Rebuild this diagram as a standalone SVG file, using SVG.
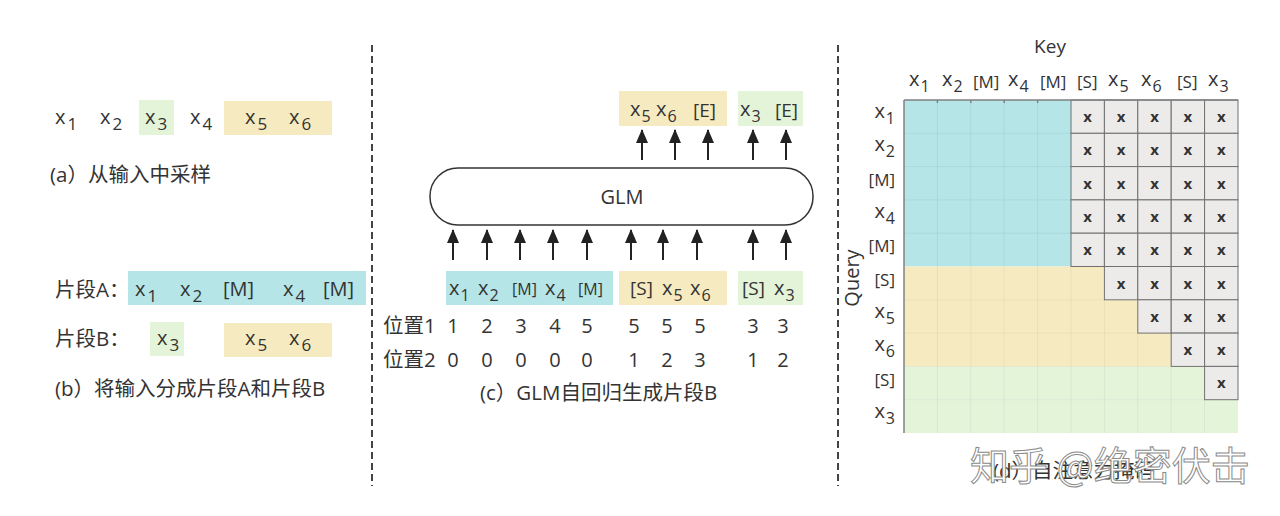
<svg xmlns="http://www.w3.org/2000/svg" width="1280" height="516" viewBox="0 0 1280 516">
<defs>
<style>
text{font-family:"Open Sans","Noto Sans CJK SC",sans-serif;fill:#333;}
.t{font-size:20px;}
.t .sub{font-size:17px;}
.tm{font-size:20px;}
.tm .sub{font-size:16px;}
.ts{font-size:16px;}
.tb{font-size:19px;}
.sub{font-size:15px;}
.cap{font-size:20.5px;}
.num{font-size:20px;text-anchor:middle;}
.lbl{font-size:20px;}
.lbl .sub{font-size:16px;}
.rl{font-size:20px;text-anchor:end;}
.rl .sub{font-size:16px;}
.rb{font-size:17px;text-anchor:end;}
.cb{font-size:17px;}
.cx{font-size:15px;font-weight:bold;text-anchor:middle;fill:#333;}
.blue{fill:#b5e5e7;}
.yel{fill:#f6ebc0;}
.grn{fill:#e3f4d9;}
.gray{fill:#edebea;stroke:#707070;stroke-width:1;}
.dash{stroke:#444;stroke-width:2;stroke-dasharray:7 4;fill:none;}
.arr{stroke:#222;stroke-width:2;fill:none;marker-end:url(#ah);}
.grid{stroke:#000;stroke-opacity:0.05;stroke-width:1;}
.wm{font-family:"Noto Sans CJK SC",sans-serif;font-size:39px;fill:#fff;stroke:#8a8a8a;stroke-width:1;}
</style>
<marker id="ah" markerWidth="14" markerHeight="12" refX="13" refY="6" orient="auto" markerUnits="userSpaceOnUse" viewBox="0 0 14 12">
<path d="M0,0 L14,6 L0,12 Z" fill="#222"/>
</marker>
</defs>
<rect width="1280" height="516" fill="#fff"/>

<g id="dividers">
<line class="dash" x1="372" y1="45" x2="372" y2="486"/>
<line class="dash" x1="838" y1="45" x2="838" y2="486"/>
</g>

<g id="panel-a">
<rect class="grn" x="139" y="100" width="35" height="35"/>
<rect class="yel" x="224" y="101" width="108" height="34"/>
<text class="t" x="55" y="124">x<tspan class="sub" dx="2" dy="6">1</tspan></text>
<text class="t" x="100" y="124">x<tspan class="sub" dx="2" dy="6">2</tspan></text>
<text class="t" x="145" y="124">x<tspan class="sub" dx="2" dy="6">3</tspan></text>
<text class="t" x="190" y="124">x<tspan class="sub" dx="2" dy="6">4</tspan></text>
<text class="t" x="245" y="124">x<tspan class="sub" dx="2" dy="6">5</tspan></text>
<text class="t" x="289" y="124">x<tspan class="sub" dx="2" dy="6">6</tspan></text>
<text class="cap" x="50" y="182">(a）从输入中采样</text>
</g>

<g id="panel-b">
<rect class="blue" x="128" y="271" width="238" height="34"/>
<rect class="grn" x="150" y="322" width="34" height="34"/>
<rect class="yel" x="224" y="323" width="108" height="34"/>
<text class="cap" x="55" y="297">片段A：</text>
<text class="t" x="135" y="296">x<tspan class="sub" dx="2" dy="6">1</tspan></text>
<text class="t" x="180" y="296">x<tspan class="sub" dx="2" dy="6">2</tspan></text>
<text class="t" x="223" y="296">[M]</text>
<text class="t" x="283" y="296">x<tspan class="sub" dx="2" dy="6">4</tspan></text>
<text class="t" x="323" y="296">[M]</text>
<text class="cap" x="55" y="346">片段B：</text>
<text class="t" x="157" y="345">x<tspan class="sub" dx="2" dy="6">3</tspan></text>
<text class="t" x="245" y="345">x<tspan class="sub" dx="2" dy="6">5</tspan></text>
<text class="t" x="289" y="345">x<tspan class="sub" dx="2" dy="6">6</tspan></text>
<text class="cap" x="55" y="396">(b）将输入分成片段A和片段B</text>
</g>

<g id="output-tokens">
<rect class="yel" x="619" y="91" width="108" height="35"/>
<rect class="grn" x="738" y="91" width="65" height="35"/>
<text class="tm" x="630" y="116">x<tspan class="sub" dx="1" dy="6">5</tspan></text>
<text class="tm" x="656" y="116">x<tspan class="sub" dx="1" dy="6">6</tspan></text>
<text class="tb" x="693" y="117">[E]</text>
<text class="tm" x="740" y="116">x<tspan class="sub" dx="1" dy="6">3</tspan></text>
<text class="tb" x="775" y="117">[E]</text>
</g>
<g id="glm">
<rect x="430" y="168" width="383" height="57" rx="28" ry="28" fill="#fff" stroke="#333" stroke-width="1.5"/>
<text x="622" y="204" style="font-size:20px;text-anchor:middle">GLM</text>
</g>
<g id="input-tokens">
<rect class="blue" x="446" y="271" width="167" height="34"/>
<rect class="yel" x="619" y="271" width="108" height="34"/>
<rect class="grn" x="738" y="271" width="65" height="34"/>
<text class="tm" x="449" y="295">x<tspan class="sub" dx="1" dy="6">1</tspan></text>
<text class="tm" x="478" y="295">x<tspan class="sub" dx="1" dy="6">2</tspan></text>
<text class="ts" x="512" y="295">[M]</text>
<text class="tm" x="545" y="295">x<tspan class="sub" dx="1" dy="6">4</tspan></text>
<text class="ts" x="578" y="295">[M]</text>
<text class="tb" x="630" y="295">[S]</text>
<text class="tm" x="662" y="295">x<tspan class="sub" dx="1" dy="6">5</tspan></text>
<text class="tm" x="690" y="295">x<tspan class="sub" dx="1" dy="6">6</tspan></text>
<text class="tb" x="742" y="295">[S]</text>
<text class="tm" x="774" y="295">x<tspan class="sub" dx="1" dy="6">3</tspan></text>
</g>
<g id="positions">
<text class="cap" x="383" y="333">位置1</text>
<text class="cap" x="383" y="367">位置2</text>
<text class="num" x="453" y="333">1</text><text class="num" x="487" y="333">2</text><text class="num" x="521" y="333">3</text><text class="num" x="555" y="333">4</text><text class="num" x="587" y="333">5</text>
<text class="num" x="634" y="333">5</text><text class="num" x="667" y="333">5</text><text class="num" x="700" y="333">5</text><text class="num" x="753" y="333">3</text><text class="num" x="783" y="333">3</text>
<text class="num" x="453" y="367">0</text><text class="num" x="487" y="367">0</text><text class="num" x="521" y="367">0</text><text class="num" x="555" y="367">0</text><text class="num" x="587" y="367">0</text>
<text class="num" x="634" y="367">1</text><text class="num" x="667" y="367">2</text><text class="num" x="700" y="367">3</text><text class="num" x="753" y="367">1</text><text class="num" x="783" y="367">2</text>
<text class="cap" x="480" y="400">(c）GLM自回归生成片段B</text>
</g>
<g id="connectors">
<line class="arr" x1="642" y1="160" x2="642" y2="130"/>
<line class="arr" x1="675" y1="160" x2="675" y2="130"/>
<line class="arr" x1="708" y1="160" x2="708" y2="130"/>
<line class="arr" x1="753" y1="160" x2="753" y2="130"/>
<line class="arr" x1="786" y1="160" x2="786" y2="130"/>
<line class="arr" x1="453" y1="260" x2="453" y2="230"/>
<line class="arr" x1="487" y1="260" x2="487" y2="230"/>
<line class="arr" x1="520" y1="260" x2="520" y2="230"/>
<line class="arr" x1="553" y1="260" x2="553" y2="230"/>
<line class="arr" x1="587" y1="260" x2="587" y2="230"/>
<line class="arr" x1="631" y1="260" x2="631" y2="230"/>
<line class="arr" x1="663" y1="260" x2="663" y2="230"/>
<line class="arr" x1="697" y1="260" x2="697" y2="230"/>
<line class="arr" x1="753" y1="260" x2="753" y2="230"/>
<line class="arr" x1="786" y1="260" x2="786" y2="230"/>
</g>

<g id="mask-matrix">
<rect class="blue" x="904" y="100" width="167" height="166.5"/>
<rect class="yel" x="904" y="266.5" width="200.4" height="33.3"/>
<rect class="yel" x="904" y="299.8" width="233.8" height="33.3"/>
<rect class="yel" x="904" y="333.1" width="267.2" height="33.3"/>
<rect class="grn" x="904" y="366.4" width="300.6" height="33.3"/>
<rect class="grn" x="904" y="399.7" width="334" height="33.3"/>
<g class="grid">
<line x1="937.4" y1="100" x2="937.4" y2="433"/><line x1="970.8" y1="100" x2="970.8" y2="433"/><line x1="1004.2" y1="100" x2="1004.2" y2="433"/><line x1="1037.6" y1="100" x2="1037.6" y2="433"/>
<line x1="1071" y1="266.5" x2="1071" y2="433"/><line x1="1104.4" y1="299.8" x2="1104.4" y2="433"/><line x1="1137.8" y1="333.1" x2="1137.8" y2="433"/><line x1="1171.2" y1="366.4" x2="1171.2" y2="433"/><line x1="1204.6" y1="399.7" x2="1204.6" y2="433"/>
<line x1="904" y1="299.8" x2="1104.4" y2="299.8"/><line x1="904" y1="333.1" x2="1137.8" y2="333.1"/><line x1="904" y1="366.4" x2="1171.2" y2="366.4"/><line x1="904" y1="399.7" x2="1204.6" y2="399.7"/>
<line x1="904" y1="133.3" x2="1071" y2="133.3"/><line x1="904" y1="166.6" x2="1071" y2="166.6"/><line x1="904" y1="199.9" x2="1071" y2="199.9"/><line x1="904" y1="233.2" x2="1071" y2="233.2"/>
</g>
<g id="masked-cells">
<rect class="gray" x="1071" y="100" width="33.4" height="33.3"/><rect class="gray" x="1104.4" y="100" width="33.4" height="33.3"/><rect class="gray" x="1137.8" y="100" width="33.4" height="33.3"/><rect class="gray" x="1171.2" y="100" width="33.4" height="33.3"/><rect class="gray" x="1204.6" y="100" width="33.4" height="33.3"/>
<rect class="gray" x="1071" y="133.3" width="33.4" height="33.3"/><rect class="gray" x="1104.4" y="133.3" width="33.4" height="33.3"/><rect class="gray" x="1137.8" y="133.3" width="33.4" height="33.3"/><rect class="gray" x="1171.2" y="133.3" width="33.4" height="33.3"/><rect class="gray" x="1204.6" y="133.3" width="33.4" height="33.3"/>
<rect class="gray" x="1071" y="166.6" width="33.4" height="33.3"/><rect class="gray" x="1104.4" y="166.6" width="33.4" height="33.3"/><rect class="gray" x="1137.8" y="166.6" width="33.4" height="33.3"/><rect class="gray" x="1171.2" y="166.6" width="33.4" height="33.3"/><rect class="gray" x="1204.6" y="166.6" width="33.4" height="33.3"/>
<rect class="gray" x="1071" y="199.9" width="33.4" height="33.3"/><rect class="gray" x="1104.4" y="199.9" width="33.4" height="33.3"/><rect class="gray" x="1137.8" y="199.9" width="33.4" height="33.3"/><rect class="gray" x="1171.2" y="199.9" width="33.4" height="33.3"/><rect class="gray" x="1204.6" y="199.9" width="33.4" height="33.3"/>
<rect class="gray" x="1071" y="233.2" width="33.4" height="33.3"/><rect class="gray" x="1104.4" y="233.2" width="33.4" height="33.3"/><rect class="gray" x="1137.8" y="233.2" width="33.4" height="33.3"/><rect class="gray" x="1171.2" y="233.2" width="33.4" height="33.3"/><rect class="gray" x="1204.6" y="233.2" width="33.4" height="33.3"/>
<rect class="gray" x="1104.4" y="266.5" width="33.4" height="33.3"/><rect class="gray" x="1137.8" y="266.5" width="33.4" height="33.3"/><rect class="gray" x="1171.2" y="266.5" width="33.4" height="33.3"/><rect class="gray" x="1204.6" y="266.5" width="33.4" height="33.3"/>
<rect class="gray" x="1137.8" y="299.8" width="33.4" height="33.3"/><rect class="gray" x="1171.2" y="299.8" width="33.4" height="33.3"/><rect class="gray" x="1204.6" y="299.8" width="33.4" height="33.3"/>
<rect class="gray" x="1171.2" y="333.1" width="33.4" height="33.3"/><rect class="gray" x="1204.6" y="333.1" width="33.4" height="33.3"/>
<rect class="gray" x="1204.6" y="366.4" width="33.4" height="33.3"/>
</g>
<g id="mask-marks">
<text class="cx" x="1087.7" y="122">x</text><text class="cx" x="1121.1" y="122">x</text><text class="cx" x="1154.5" y="122">x</text><text class="cx" x="1187.9" y="122">x</text><text class="cx" x="1221.3" y="122">x</text>
<text class="cx" x="1087.7" y="155.3">x</text><text class="cx" x="1121.1" y="155.3">x</text><text class="cx" x="1154.5" y="155.3">x</text><text class="cx" x="1187.9" y="155.3">x</text><text class="cx" x="1221.3" y="155.3">x</text>
<text class="cx" x="1087.7" y="188.6">x</text><text class="cx" x="1121.1" y="188.6">x</text><text class="cx" x="1154.5" y="188.6">x</text><text class="cx" x="1187.9" y="188.6">x</text><text class="cx" x="1221.3" y="188.6">x</text>
<text class="cx" x="1087.7" y="221.9">x</text><text class="cx" x="1121.1" y="221.9">x</text><text class="cx" x="1154.5" y="221.9">x</text><text class="cx" x="1187.9" y="221.9">x</text><text class="cx" x="1221.3" y="221.9">x</text>
<text class="cx" x="1087.7" y="255.2">x</text><text class="cx" x="1121.1" y="255.2">x</text><text class="cx" x="1154.5" y="255.2">x</text><text class="cx" x="1187.9" y="255.2">x</text><text class="cx" x="1221.3" y="255.2">x</text>
<text class="cx" x="1121.1" y="288.5">x</text><text class="cx" x="1154.5" y="288.5">x</text><text class="cx" x="1187.9" y="288.5">x</text><text class="cx" x="1221.3" y="288.5">x</text>
<text class="cx" x="1154.5" y="321.8">x</text><text class="cx" x="1187.9" y="321.8">x</text><text class="cx" x="1221.3" y="321.8">x</text>
<text class="cx" x="1187.9" y="355.1">x</text><text class="cx" x="1221.3" y="355.1">x</text>
<text class="cx" x="1221.3" y="388.4">x</text>
</g>
<g id="axes" stroke="#808080" stroke-width="1.5">
<line x1="904" y1="100" x2="1238" y2="100"/>
<line x1="904" y1="100" x2="904" y2="433"/>
<line x1="937.4" y1="100" x2="937.4" y2="103"/><line x1="970.8" y1="100" x2="970.8" y2="103"/><line x1="1004.2" y1="100" x2="1004.2" y2="103"/><line x1="1037.6" y1="100" x2="1037.6" y2="103"/>
</g>
</g>
<g id="key-labels">
<text x="1050" y="53" style="font-size:19px;text-anchor:middle">Key</text>
<text class="lbl" x="909" y="86">x<tspan class="sub" dx="1" dy="6">1</tspan></text>
<text class="lbl" x="942" y="86">x<tspan class="sub" dx="1" dy="6">2</tspan></text>
<text class="cb" x="973" y="88">[M]</text>
<text class="lbl" x="1008" y="86">x<tspan class="sub" dx="1" dy="6">4</tspan></text>
<text class="cb" x="1040" y="88">[M]</text>
<text class="cb" x="1077" y="88">[S]</text>
<text class="lbl" x="1108" y="86">x<tspan class="sub" dx="1" dy="6">5</tspan></text>
<text class="lbl" x="1141" y="86">x<tspan class="sub" dx="1" dy="6">6</tspan></text>
<text class="cb" x="1177" y="88">[S]</text>
<text class="lbl" x="1208" y="86">x<tspan class="sub" dx="1" dy="6">3</tspan></text>
</g>
<g id="query-labels">
<text x="859" y="278" transform="rotate(-90 859 278)" style="font-size:20px;text-anchor:middle">Query</text>
<text class="rl" x="895" y="118">x<tspan class="sub" dx="1" dy="6">1</tspan></text>
<text class="rl" x="895" y="151">x<tspan class="sub" dx="1" dy="6">2</tspan></text>
<text class="rb" x="895" y="186">[M]</text>
<text class="rl" x="895" y="218">x<tspan class="sub" dx="1" dy="6">4</tspan></text>
<text class="rb" x="895" y="252">[M]</text>
<text class="rb" x="895" y="286">[S]</text>
<text class="rl" x="895" y="318">x<tspan class="sub" dx="1" dy="6">5</tspan></text>
<text class="rl" x="895" y="351">x<tspan class="sub" dx="1" dy="6">6</tspan></text>
<text class="rb" x="895" y="386">[S]</text>
<text class="rl" x="895" y="418">x<tspan class="sub" dx="1" dy="6">3</tspan></text>
</g>
<g id="caption-d">
<text class="cap" x="993" y="478">(d）自注意力掩码</text>
<text class="wm" x="970" y="480">知乎 @绝密伏击</text>
</g>
</svg>
